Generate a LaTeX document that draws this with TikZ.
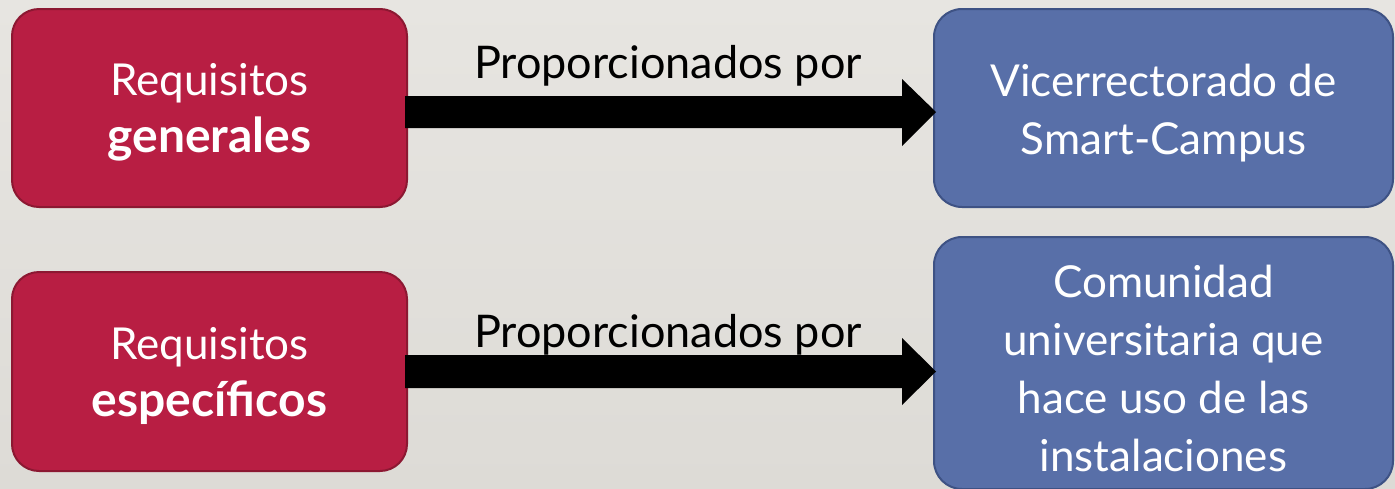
\documentclass[tikz,border=0pt]{standalone}
\usepackage{fontspec}
\setmainfont{Lato}
\usetikzlibrary{calc}
\definecolor{bgA}{RGB}{231,229,225}
\definecolor{bgB}{RGB}{221,219,214}
\definecolor{redfill}{RGB}{184,30,67}
\definecolor{redline}{RGB}{140,24,50}
\definecolor{bluefill}{RGB}{88,111,168}
\definecolor{blueline}{RGB}{62,82,132}
\tikzset{
  redbox/.style={draw=redline, line width=2pt, fill=redfill, rounded corners=27pt,
    minimum width=395pt, minimum height=198pt, inner sep=0pt},
  bluebox/.style={draw=blueline, line width=2pt, fill=bluefill, rounded corners=28pt,
    minimum width=459pt, inner sep=0pt},
  redtext/.style={text=white, align=center, font=\fontsize{44}{57}\selectfont, inner sep=0pt},
  bluetext/.style={text=white, align=center, font=\fontsize{44}{58}\selectfont, inner sep=0pt},
  fatarrow/.style={fill=black},
  lbl/.style={font=\fontsize{45}{50}\selectfont, text=black, anchor=base, inner sep=0pt}
}
\newcommand{\bigbold}[1]{{\fontsize{48}{57}\selectfont\bfseries #1}}
\begin{document}
\begin{tikzpicture}[x=1pt,y=-1pt]
\clip (0,0) rectangle (1395,488);
\shade[top color=bgA, bottom color=bgB] (0,0) rectangle (1395,488);
\node[redbox] (r1) at (209.5,108) {};
\node[redbox, minimum height=199pt] (r2) at (209.5,371.5) {};
\node[bluebox, minimum height=198pt] (b1) at (1163.5,108) {};
\node[bluebox, minimum height=252pt] (b2) at (1163.5,363) {};
\node[redtext] (t1) at ($(r1.center)+(0,4)$) {Requisitos\\\bigbold{generales}};
\node[redtext] (t2) at ($(r2.center)+(0,4)$) {Requisitos\\\bigbold{específicos}};
\node[bluetext] (t3) at ($(b1.center)+(0,5)$) {Vicerrectorado de\\Smart-Campus};
\node[bluetext] (t4) at ($(b2.center)+(0,5)$) {Comunidad\\universitaria que\\hace uso de las\\instalaciones};
% arrows
\fill[fatarrow] ($(r1.east)+(-3,-12)$) -- ($(b1.west)+(-31,-12)$) -- ($(b1.west)+(-31,-29)$)
  -- ($(b1.west)+(3,4)$) -- ($(b1.west)+(-31,38)$) -- ($(b1.west)+(-31,20)$)
  -- ($(r1.east)+(-3,20)$) -- cycle;
\fill[fatarrow] ($(r2.east)+(-3,-16.5)$) -- ($(b2.west)+(-31,-8)$) -- ($(b2.west)+(-31,-25)$)
  -- ($(b2.west)+(3,8.5)$) -- ($(b2.west)+(-31,42)$) -- ($(b2.west)+(-31,25)$)
  -- ($(r2.east)+(-3,16.5)$) -- cycle;
\node[lbl] (l1) at (668,78) {Proporcionados por};
\node[lbl] (l2) at (668,347) {Proporcionados por};
\end{tikzpicture}
\end{document}
